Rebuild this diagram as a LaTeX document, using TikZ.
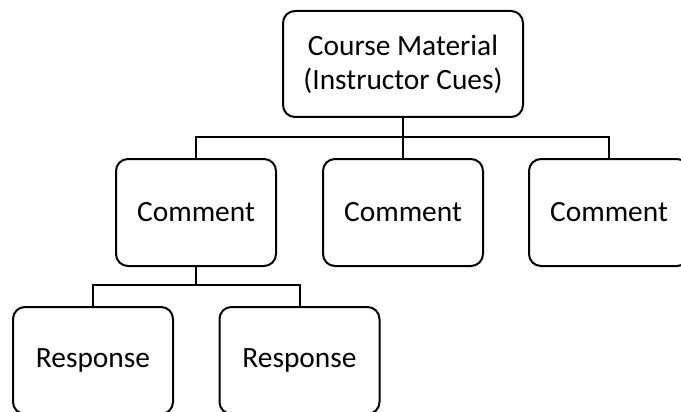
\documentclass[tikz,border=0pt]{standalone}
\usepackage{fontspec}
\setmainfont{Carlito}
\begin{document}
\begin{tikzpicture}[x=1pt,y=-1pt,
  box/.style={draw=black, line width=2pt, rounded corners=12pt, fill=white,
    minimum width=160pt, minimum height=107pt, inner sep=0pt,
    font=\fontsize{29.4}{34}\selectfont, align=center, text=black},
  wide/.style={box, minimum width=240pt, minimum height=106pt},
  link/.style={draw=black, line width=2pt}]
  \useasboundingbox (0,0) rectangle (681,412);
  \clip (0,0) rectangle (681,412);
  \fill[white] (0,0) rectangle (681,412);

  % tree nodes
  \node[wide] (root) at (403,64) {Course Material\\(Instructor Cues)};
  \node[box] (c1) at (196,212.5) {Comment};
  \node[box] (c2) at (403,212.5) {Comment};
  \node[box] (c3) at (609,212.5) {Comment};
  \node[box] (r1) at (93,360.5) {Response};
  \node[box] (r2) at (299.5,360.5) {Response};

  % branch junctions
  \coordinate (j1) at (403,137);
  \coordinate (j2) at (196,285);

  % connectors
  \draw[link] (root.south) -- (j1);
  \draw[link] (c1.north) |- (j1) -| (c3.north);
  \draw[link] (j1) -- (c2.north);
  \draw[link] (c1.south) -- (j2);
  \draw[link] (r1.north) |- (j2) -| (r2.north);
\end{tikzpicture}
\end{document}
